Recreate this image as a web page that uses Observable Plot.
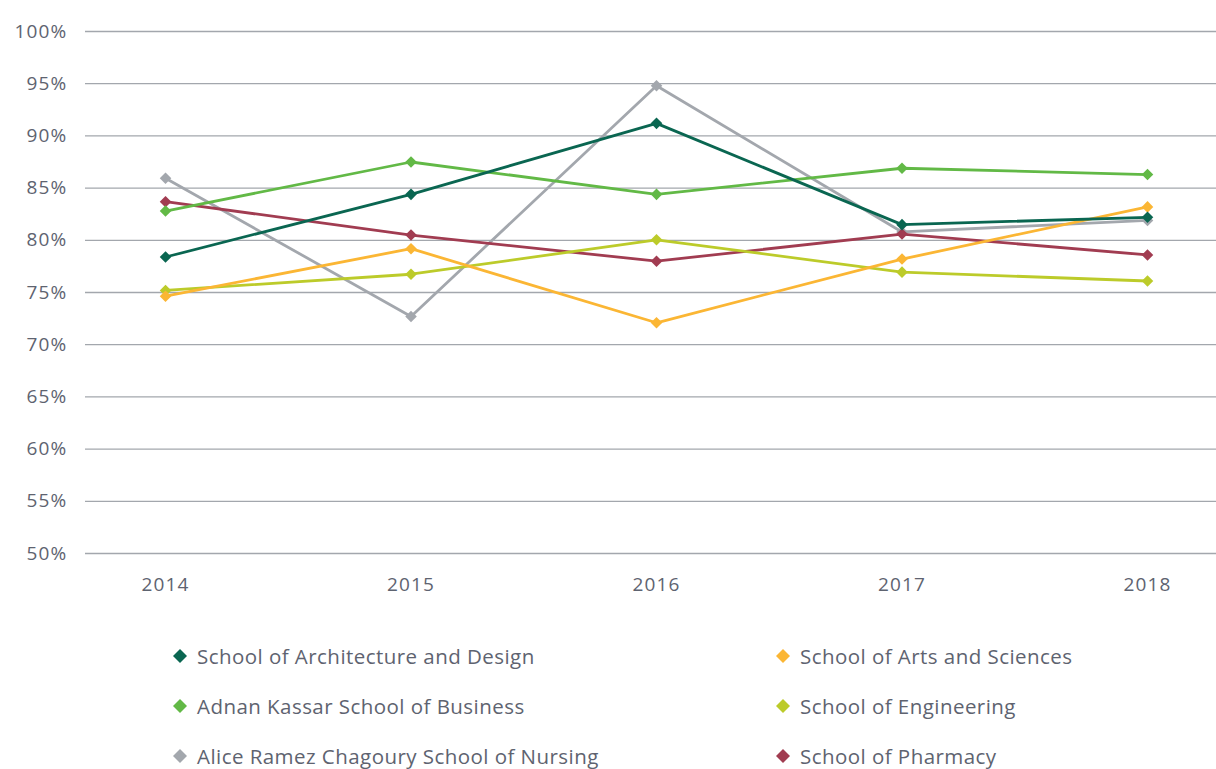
<!DOCTYPE html>
<html>
<head>
<meta charset="utf-8">
<script src="https://cdn.jsdelivr.net/npm/d3@7"></script>
<script src="https://cdn.jsdelivr.net/npm/@observablehq/plot@0.6"></script>
<style>
  html, body { margin: 0; padding: 0; background: #fff; }
  body { width: 1216px; height: 769px; overflow: hidden; font-family: "Open Sans", Lato, sans-serif; }
  #legend { position: relative; width: 1216px; }
  .item { position: absolute; display: flex; align-items: center; font-size: 20.5px; letter-spacing: 0.45px; color: #5e6370; white-space: nowrap; }
  .item svg { margin-right: 8px; }
  svg text { letter-spacing: 1.2px; }
</style>
</head>
<body>
<div id="chart"></div>
<div id="legend"></div>
<script>
const years = [2014, 2015, 2016, 2017, 2018];
const schools = [
  "School of Architecture and Design",
  "School of Arts and Sciences",
  "Adnan Kassar School of Business",
  "School of Engineering",
  "Alice Ramez Chagoury School of Nursing",
  "School of Pharmacy"
];
const colors = ["#0a6651", "#fbb634", "#62b946", "#bccb2a", "#a3a7ad", "#a13c51"];
const architecture = [78.4, 84.4, 91.2, 81.5, 82.2];
const arts = [74.65, 79.2, 72.1, 78.2, 83.2];
const business = [82.8, 87.5, 84.4, 86.9, 86.3];
const engineering = [75.2, 76.75, 80.05, 76.95, 76.1];
const nursing = [85.95, 72.7, 94.8, 80.8, 81.9];
const pharmacy = [83.7, 80.5, 78.0, 80.6, 78.6];
const yTicks = [50, 55, 60, 65, 70, 75, 80, 85, 90, 95, 100];

const seriesValues = [architecture, arts, business, engineering, nursing, pharmacy];
const drawOrder = [4, 5, 3, 1, 2, 0];
const data = [];
for (const i of drawOrder) {
  years.forEach((yr, j) => data.push({school: schools[i], year: yr, value: seriesValues[i][j]}));
}

const chart = Plot.plot({
  width: 1216,
  height: 600,
  marginLeft: 85,
  marginRight: 0,
  marginTop: 31,
  marginBottom: 47,
  style: {fontFamily: "'Open Sans', Lato, sans-serif", fontSize: "19px", color: "#5e6370", background: "#fff"},
  x: {type: "linear", domain: [2014 - 0.326, 2018 + 0.281], ticks: years, tickFormat: d => String(d), tickSize: 0, tickPadding: 24, label: null},
  y: {domain: [50, 100], ticks: yTicks, tickFormat: d => d + "%", tickSize: 0, tickPadding: 18, label: null},
  color: {domain: schools, range: colors},
  marks: [
    Plot.ruleY(yTicks, {stroke: "#a3a7ad", strokeWidth: 1.3}),
    Plot.lineY(data, {x: "year", y: "value", z: "school", stroke: "school", strokeWidth: 2.8}),
    Plot.dot(data, {x: "year", y: "value", fill: "school", symbol: "diamond2", r: 5.2, stroke: null})
  ]
});
document.getElementById("chart").appendChild(chart);

// legend
const legend = document.getElementById("legend");
const positions = [
  [0, 0], [1, 0], [0, 1], [1, 1], [0, 2], [1, 2]
];
schools.forEach((s, i) => {
  const [col, row] = positions[i];
  const div = document.createElement("div");
  div.className = "item";
  div.style.left = (col === 0 ? 171 : 774) + "px";
  div.style.top = (56 + row * 50 - 14) + "px";
  div.style.height = "28px";
  div.innerHTML = `<svg width="18" height="18" viewBox="-9 -9 18 18"><path d="M0,-7L7,0L0,7L-7,0Z" fill="${colors[i]}"/></svg><span>${s}</span>`;
  legend.appendChild(div);
});
</script>
</body>
</html>
